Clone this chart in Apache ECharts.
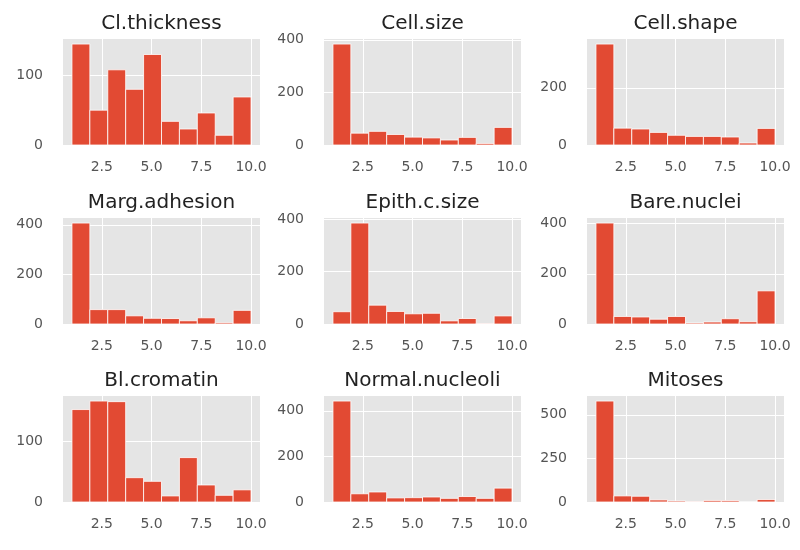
<!DOCTYPE html>
<html>
<head>
<meta charset="utf-8">
<script src="https://cdn.jsdelivr.net/npm/echarts@6/dist/echarts.min.js"></script>
<style>html,body{margin:0;padding:0;background:#fff}#c{width:800px;height:550px}</style>
</head>
<body>
<div id="c"></div>
<script>
const titles = ["Cl.thickness","Cell.size","Cell.shape","Marg.adhesion","Epith.c.size","Bare.nuclei","Bl.cromatin","Normal.nucleoli","Mitoses"];
const binStart = [1.0, 1.9, 2.8, 3.7, 4.6, 5.5, 6.4, 7.3, 8.2, 9.1];
const binEnd   = [1.9, 2.8, 3.7, 4.6, 5.5, 6.4, 7.3, 8.2, 9.1, 10.0];
const clThickness    = [145, 50, 108, 80, 130, 34, 23, 46, 14, 69];
const cellSize       = [384, 45, 52, 40, 30, 27, 19, 29, 6, 67];
const cellShape      = [353, 59, 56, 44, 34, 30, 30, 28, 7, 58];
const margAdhesion   = [407, 58, 58, 33, 23, 22, 13, 25, 5, 55];
const epithCSize     = [47, 386, 72, 48, 39, 41, 12, 21, 2, 31];
const bareNuclei     = [402, 30, 28, 19, 30, 4, 8, 21, 9, 132];
const blCromatin     = [152, 166, 165, 40, 34, 10, 73, 28, 11, 20];
const normalNucleoli = [443, 36, 44, 18, 19, 22, 16, 24, 16, 61];
const mitoses        = [579, 35, 33, 12, 6, 3, 9, 8, 0, 14];
const xTicks = [2.5, 5.0, 7.5, 10.0];
const yTicks = [[0,100],[0,200,400],[0,200],[0,200,400],[0,200,400],[0,200,400],[0,100],[0,200,400],[0,250,500]];
const series = [clThickness, cellSize, cellShape, margAdhesion, epithCSize, bareNuclei, blCromatin, normalNucleoli, mitoses];

const colLeft = [63, 324, 587];
const plotW = 197;
const rowTop = [39, 218, 396];
const plotH = 106;

const grids = [], xAxes = [], yAxes = [], ser = [], ttl = [];
series.forEach((vals, i) => {
  const r = Math.floor(i / 3), c = i % 3;
  grids.push({left: colLeft[c], top: rowTop[r], width: plotW, height: plotH, show: true, backgroundColor: '#E5E5E5', borderWidth: 0, containLabel: false});
  const ymax = Math.max(...vals) * 1.05;
  xAxes.push({type: 'value', gridIndex: i, min: 0.55, max: 10.45,
    axisLine: {show: false}, axisTick: {show: false, customValues: xTicks},
    axisLabel: {customValues: xTicks, color: '#555555', fontSize: 14, fontFamily: 'DejaVu Sans', margin: 15, formatter: v => v.toFixed(1)},
    splitLine: {show: true, customValues: xTicks, lineStyle: {color: '#ffffff', width: 1}}});
  yAxes.push({type: 'value', gridIndex: i, min: 0, max: ymax,
    axisLine: {show: false}, axisTick: {show: false, customValues: yTicks[i]},
    axisLabel: {customValues: yTicks[i], color: '#555555', fontSize: 14, fontFamily: 'DejaVu Sans', margin: 20},
    splitLine: {show: true, customValues: yTicks[i], lineStyle: {color: '#ffffff', width: 1}}});
  ser.push({type: 'custom', xAxisIndex: i, yAxisIndex: i,
    data: vals.map((v, k) => [binStart[k], binEnd[k], v]),
    encode: {x: [0, 1], y: 2},
    renderItem: (params, api) => {
      const p0 = api.coord([api.value(0), api.value(2)]);
      const p1 = api.coord([api.value(1), 0]);
      return {type: 'rect', shape: {x: p0[0], y: p0[1], width: p1[0] - p0[0], height: p1[1] - p0[1]},
        style: {fill: '#E24A33', stroke: '#ffffff', lineWidth: 0.8}};
    }});
  ttl.push({text: titles[i], left: colLeft[c] + plotW / 2, top: rowTop[r] - 25, textAlign: 'center', padding: 0,
    textStyle: {fontSize: 20, fontWeight: 'normal', color: '#222222', fontFamily: 'DejaVu Sans'}});
});

const chart = echarts.init(document.getElementById('c'), null, {renderer: 'canvas'});
chart.setOption({animation: false, backgroundColor: '#ffffff', title: ttl, grid: grids, xAxis: xAxes, yAxis: yAxes, series: ser});
</script>
</body>
</html>
